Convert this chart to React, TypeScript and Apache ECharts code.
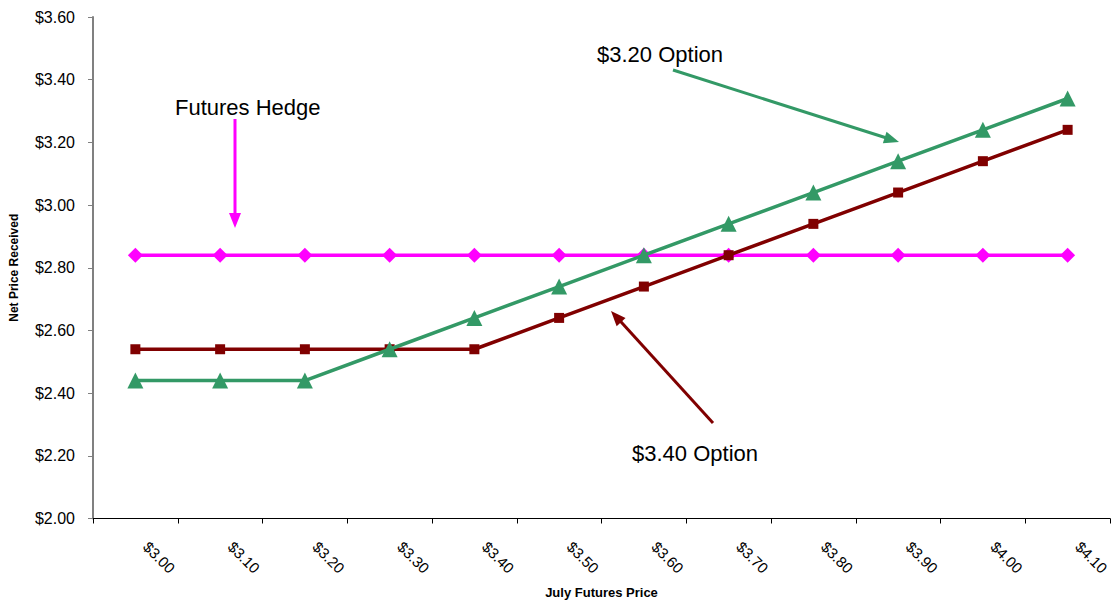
import React, { useEffect, useRef } from "react";
import * as echarts from "echarts";

const categories = ["$3.00", "$3.10", "$3.20", "$3.30", "$3.40", "$3.50", "$3.60", "$3.70", "$3.80", "$3.90", "$4.00", "$4.10"];
const futuresHedge = [2.84, 2.84, 2.84, 2.84, 2.84, 2.84, 2.84, 2.84, 2.84, 2.84, 2.84, 2.84];
const option340 = [2.54, 2.54, 2.54, 2.54, 2.54, 2.64, 2.74, 2.84, 2.94, 3.04, 3.14, 3.24];
const option320 = [2.44, 2.44, 2.44, 2.54, 2.64, 2.74, 2.84, 2.94, 3.04, 3.14, 3.24, 3.34];

const FONT = "'Liberation Sans', Arial, sans-serif";
const MAGENTA = "#FF00FF";
const DARKRED = "#800000";
const GREEN = "#339966";

// line with a filled triangular head at (x2, y2)
function arrow(x1: number, y1: number, x2: number, y2: number, color: string, headLen = 15, headW = 12) {
  const dx = x2 - x1;
  const dy = y2 - y1;
  const len = Math.sqrt(dx * dx + dy * dy);
  const ux = dx / len;
  const uy = dy / len;
  const bx = x2 - ux * headLen;
  const by = y2 - uy * headLen;
  const px = -uy * (headW / 2);
  const py = ux * (headW / 2);
  return [
    {
      type: "line",
      shape: { x1, y1, x2: bx + ux * 2, y2: by + uy * 2 },
      style: { stroke: color, lineWidth: 3 },
      z: 10,
    },
    {
      type: "polygon",
      shape: { points: [[x2, y2], [bx + px, by + py], [bx - px, by - py]] },
      style: { fill: color },
      z: 10,
    },
  ];
}

export default function App() {
  const ref = useRef<HTMLDivElement>(null);

  useEffect(() => {
    if (!ref.current) return;
    const chart = echarts.init(ref.current, null, { renderer: "svg" });
    chart.setOption({
      animation: false,
      backgroundColor: "#ffffff",
      textStyle: { fontFamily: FONT },
      grid: {
        left: 93,
        right: 2,
        top: 17,
        bottom: 84.5,
        containLabel: false,
        outerBoundsMode: "none",
      },
      xAxis: {
        type: "category",
        data: categories,
        boundaryGap: true,
        name: "July Futures Price",
        nameLocation: "middle",
        nameGap: 67,
        nameTextStyle: { fontFamily: FONT, fontWeight: "bold", fontSize: 13, color: "#000" },
        axisLine: { lineStyle: { color: "#000", width: 1 } },
        axisTick: { show: true, alignWithLabel: false, length: 5, lineStyle: { color: "#000" } },
        axisLabel: {
          rotate: -45,
          fontSize: 15,
          color: "#000",
          margin: 15,
          padding: [0, 0, 0, 15],
          fontFamily: FONT,
        },
        splitLine: { show: false },
      },
      yAxis: {
        type: "value",
        min: 2.0,
        max: 3.6,
        interval: 0.2,
        name: "Net Price Received",
        nameLocation: "middle",
        nameGap: 73,
        nameRotate: 90,
        nameTextStyle: { fontFamily: FONT, fontWeight: "bold", fontSize: 12, color: "#000" },
        axisLine: { show: true, lineStyle: { color: "#808080", width: 2 } },
        axisTick: { show: true, length: 5, lineStyle: { color: "#808080" } },
        axisLabel: {
          fontSize: 16,
          color: "#000",
          margin: 18,
          fontFamily: FONT,
          formatter: (v: number) => "$" + v.toFixed(2),
        },
        splitLine: { show: false },
      },
      series: [
        {
          name: "Futures Hedge",
          type: "line",
          data: futuresHedge,
          symbol: "diamond",
          symbolSize: 15,
          lineStyle: { color: MAGENTA, width: 3.5 },
          itemStyle: { color: MAGENTA },
          z: 3,
        },
        {
          name: "$3.40 Option",
          type: "line",
          data: option340,
          symbol: "rect",
          symbolSize: 10,
          lineStyle: { color: DARKRED, width: 3.5 },
          itemStyle: { color: DARKRED },
          z: 4,
        },
        {
          name: "$3.20 Option",
          type: "line",
          data: option320,
          symbol: "triangle",
          symbolSize: 16,
          lineStyle: { color: GREEN, width: 3.5 },
          itemStyle: { color: GREEN },
          z: 5,
        },
      ],
      graphic: [
        {
          type: "text",
          left: 175,
          top: 96,
          style: { text: "Futures Hedge", font: `22px ${FONT}`, fill: "#000" },
        },
        {
          type: "text",
          left: 597,
          top: 43,
          style: { text: "$3.20 Option", font: `22px ${FONT}`, fill: "#000" },
        },
        {
          type: "text",
          left: 632,
          top: 442,
          style: { text: "$3.40 Option", font: `22px ${FONT}`, fill: "#000" },
        },
        ...arrow(235, 119, 235, 228, MAGENTA),
        ...arrow(673, 70, 899, 142, GREEN),
        ...arrow(713, 423, 611, 311, DARKRED),
      ],
    });
    return () => chart.dispose();
  }, []);

  return (
    <div
      ref={ref}
      style={{ position: "fixed", left: 0, top: 0, width: 1112, height: 603, background: "#fff" }}
    />
  );
}
